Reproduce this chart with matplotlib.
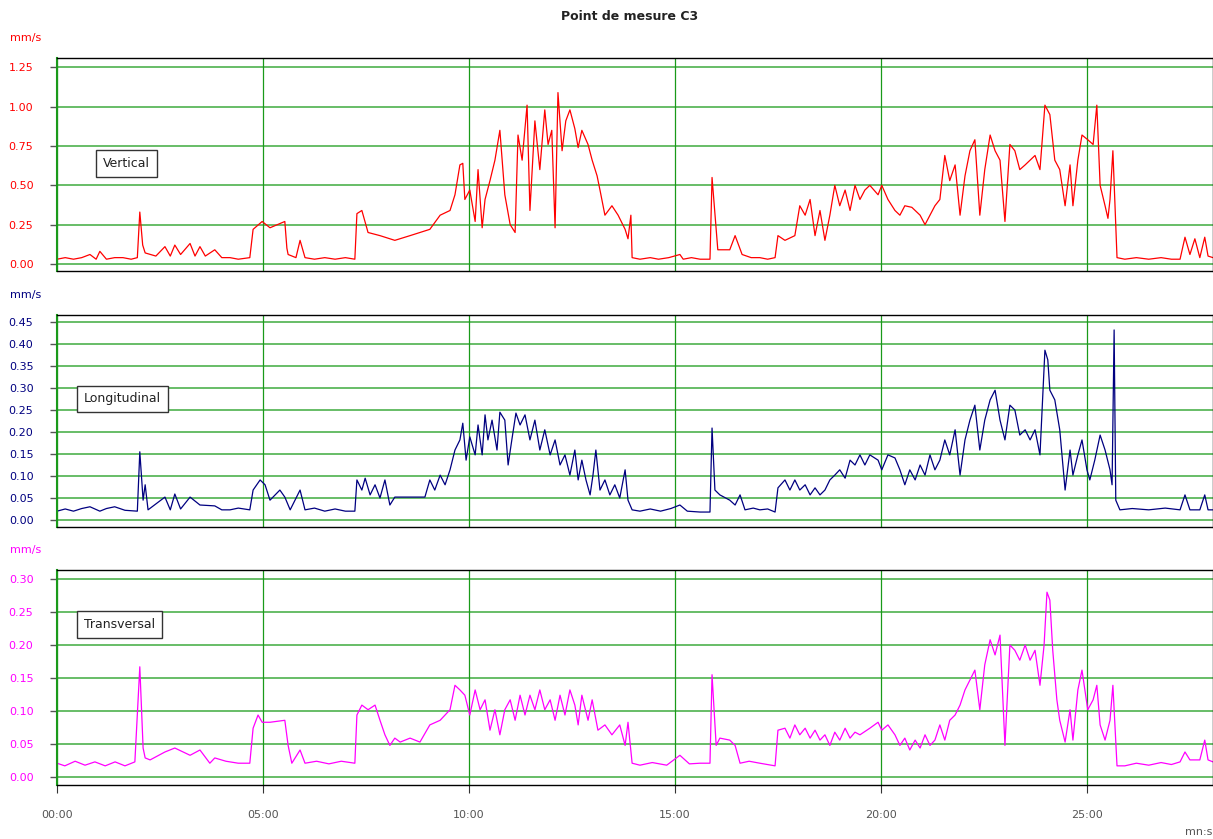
import numpy as np
import matplotlib
matplotlib.use("Agg")
import matplotlib.pyplot as plt
from matplotlib.ticker import FuncFormatter

# time in minutes, velocity in mm/s
t_vert = [0.00, 0.20, 0.40, 0.60, 0.80, 0.95, 1.04, 1.20, 1.40, 1.60, 1.80, 1.95, 2.01, 2.08, 2.14, 2.40, 2.62, 2.75, 2.86, 3.00,
          3.23, 3.35, 3.47, 3.60, 3.83, 4.00, 4.20, 4.40, 4.68, 4.76, 4.98, 5.17, 5.35, 5.53, 5.58, 5.61, 5.80, 5.90,
          6.02, 6.25, 6.50, 6.75, 7.00, 7.23, 7.28, 7.40, 7.55, 7.84, 8.20, 8.57, 9.05, 9.30, 9.54, 9.66, 9.78, 9.85, 9.90,
          10.02, 10.15, 10.22, 10.32, 10.39, 10.51, 10.63, 10.75, 10.87, 11.00, 11.12, 11.19, 11.29, 11.41,
          11.48, 11.60, 11.72, 11.84, 11.92, 12.01, 12.09, 12.16, 12.26, 12.35, 12.45, 12.57, 12.65, 12.74,
          12.89, 12.99, 13.11, 13.18, 13.30, 13.47, 13.62, 13.79, 13.86, 13.93, 13.96, 14.15, 14.40, 14.60, 14.85, 15.12,
          15.20, 15.40, 15.61, 15.85, 15.90, 16.04, 16.33, 16.46, 16.63, 16.85, 17.06, 17.25, 17.43, 17.50, 17.67, 17.91, 18.03,
          18.16, 18.28, 18.40, 18.52, 18.64, 18.76, 18.88, 19.00, 19.13, 19.25, 19.37, 19.49, 19.61, 19.73,
          19.93, 20.02, 20.17, 20.34, 20.46, 20.58, 20.75, 20.95, 21.07, 21.19, 21.31, 21.43, 21.55, 21.67,
          21.80, 21.92, 22.04, 22.16, 22.28, 22.40, 22.52, 22.65, 22.77, 22.89, 23.01, 23.13, 23.25, 23.37,
          23.50, 23.62, 23.74, 23.86, 23.98, 24.10, 24.22, 24.34, 24.47, 24.59, 24.66, 24.78, 24.88, 25.02,
          25.15, 25.24, 25.32, 25.44, 25.51, 25.56, 25.63, 25.73, 25.92, 26.20, 26.50, 26.80, 27.05, 27.26, 27.38, 27.50, 27.62,
          27.74, 27.86, 27.94, 28.06]
v_vert = [0.03, 0.04, 0.03, 0.04, 0.06, 0.03, 0.08, 0.03, 0.04, 0.04, 0.03, 0.04, 0.33, 0.12, 0.07, 0.05, 0.11, 0.05, 0.12, 0.06,
          0.13, 0.05, 0.11, 0.05, 0.09, 0.04, 0.04, 0.03, 0.04, 0.22, 0.27, 0.23, 0.25, 0.27, 0.10, 0.06, 0.04, 0.15,
          0.04, 0.03, 0.04, 0.03, 0.04, 0.03, 0.32, 0.34, 0.20, 0.18, 0.15, 0.18, 0.22, 0.31, 0.34, 0.44, 0.63, 0.64, 0.41,
          0.47, 0.27, 0.60, 0.23, 0.41, 0.53, 0.66, 0.85, 0.44, 0.25, 0.20, 0.82, 0.66, 1.01,
          0.34, 0.91, 0.60, 0.98, 0.76, 0.85, 0.23, 1.09, 0.72, 0.91, 0.98, 0.86, 0.74, 0.85,
          0.76, 0.66, 0.56, 0.47, 0.31, 0.37, 0.31, 0.22, 0.16, 0.31, 0.04, 0.03, 0.04, 0.03, 0.04, 0.06,
          0.03, 0.04, 0.03, 0.03, 0.55, 0.09, 0.09, 0.18, 0.06, 0.04, 0.04, 0.03, 0.04, 0.18, 0.15, 0.18, 0.37,
          0.31, 0.41, 0.18, 0.34, 0.15, 0.31, 0.50, 0.37, 0.47, 0.34, 0.50, 0.41, 0.47, 0.50,
          0.44, 0.50, 0.41, 0.34, 0.31, 0.37, 0.36, 0.31, 0.25, 0.31, 0.37, 0.41, 0.69, 0.53,
          0.63, 0.31, 0.56, 0.72, 0.79, 0.31, 0.60, 0.82, 0.72, 0.66, 0.27, 0.76, 0.72, 0.60,
          0.63, 0.66, 0.69, 0.60, 1.01, 0.95, 0.66, 0.60, 0.37, 0.63, 0.37, 0.66, 0.82, 0.79,
          0.76, 1.01, 0.50, 0.37, 0.29, 0.41, 0.72, 0.04, 0.03, 0.04, 0.03, 0.04, 0.03, 0.03, 0.17, 0.06, 0.16,
          0.04, 0.17, 0.05, 0.04]

t_long = [0.00, 0.20, 0.40, 0.60, 0.80, 1.04, 1.20, 1.40, 1.65, 1.95, 2.01, 2.09, 2.14, 2.21, 2.62, 2.75, 2.86, 3.00, 3.23, 3.47,
          3.83, 4.00, 4.20, 4.40, 4.68, 4.76, 4.93, 5.05, 5.17, 5.41, 5.53, 5.66, 5.90, 6.02, 6.25, 6.50, 6.75, 7.00, 7.23, 7.28, 7.40,
          7.48, 7.60, 7.72, 7.84, 7.96, 8.08, 8.20, 8.57, 8.93, 9.05, 9.17, 9.30, 9.42, 9.54, 9.66, 9.78,
          9.85, 9.93, 10.02, 10.15, 10.22, 10.32, 10.39, 10.46, 10.56, 10.68, 10.75, 10.87, 10.95, 11.04,
          11.14, 11.24, 11.36, 11.48, 11.60, 11.72, 11.84, 11.97, 12.09, 12.21, 12.33, 12.45, 12.57, 12.65,
          12.74, 12.84, 12.94, 13.01, 13.08, 13.18, 13.30, 13.42, 13.54, 13.66, 13.79, 13.86, 13.96, 14.15,
          14.40, 14.65, 14.90, 15.12, 15.30, 15.61, 15.85, 15.90, 15.97, 16.09, 16.33, 16.46, 16.58, 16.70, 16.90, 17.06, 17.25, 17.43, 17.50,
          17.67, 17.79, 17.91, 18.03, 18.16, 18.28, 18.40, 18.52, 18.64, 18.76, 18.88, 19.00, 19.13, 19.25,
          19.37, 19.49, 19.61, 19.73, 19.93, 20.02, 20.17, 20.34, 20.46, 20.58, 20.70, 20.83, 20.95, 21.07,
          21.19, 21.31, 21.43, 21.55, 21.67, 21.80, 21.92, 22.04, 22.16, 22.28, 22.40, 22.52, 22.65, 22.77,
          22.89, 23.01, 23.13, 23.25, 23.37, 23.50, 23.62, 23.74, 23.86, 23.98, 24.05, 24.10, 24.22, 24.34,
          24.47, 24.59, 24.66, 24.78, 24.88, 25.00, 25.07, 25.19, 25.32, 25.44, 25.56, 25.61, 25.66, 25.70,
          25.80, 26.10, 26.50, 26.90, 27.26, 27.38, 27.50, 27.74, 27.86, 27.94, 28.06]
v_long = [0.020, 0.025, 0.020, 0.026, 0.030, 0.020, 0.026, 0.030, 0.022, 0.020, 0.155, 0.045, 0.080, 0.023, 0.052, 0.023, 0.059, 0.025, 0.052, 0.034,
          0.032, 0.023, 0.023, 0.027, 0.023, 0.068, 0.091, 0.080, 0.045, 0.068, 0.052, 0.023, 0.068, 0.023, 0.027, 0.020, 0.025, 0.020, 0.020, 0.091, 0.068,
          0.095, 0.057, 0.080, 0.050, 0.091, 0.034, 0.052, 0.052, 0.052, 0.091, 0.068, 0.102, 0.080, 0.114, 0.159, 0.182,
          0.220, 0.136, 0.189, 0.148, 0.216, 0.148, 0.239, 0.182, 0.227, 0.159, 0.245, 0.227, 0.125, 0.182,
          0.243, 0.216, 0.239, 0.182, 0.227, 0.159, 0.205, 0.148, 0.182, 0.125, 0.148, 0.102, 0.159, 0.091,
          0.136, 0.091, 0.057, 0.102, 0.159, 0.068, 0.091, 0.057, 0.080, 0.050, 0.114, 0.045, 0.023, 0.020,
          0.025, 0.020, 0.026, 0.034, 0.020, 0.018, 0.018, 0.209, 0.068, 0.057, 0.045, 0.034, 0.057, 0.023, 0.027, 0.023, 0.025, 0.018, 0.073,
          0.091, 0.068, 0.091, 0.068, 0.080, 0.057, 0.073, 0.057, 0.068, 0.091, 0.102, 0.114, 0.095, 0.136,
          0.125, 0.148, 0.125, 0.148, 0.136, 0.114, 0.148, 0.141, 0.114, 0.080, 0.114, 0.091, 0.125, 0.102,
          0.148, 0.114, 0.136, 0.182, 0.148, 0.205, 0.102, 0.182, 0.227, 0.261, 0.159, 0.227, 0.273, 0.295,
          0.227, 0.182, 0.261, 0.250, 0.193, 0.205, 0.182, 0.205, 0.148, 0.386, 0.364, 0.295, 0.273, 0.205,
          0.068, 0.159, 0.102, 0.148, 0.182, 0.114, 0.091, 0.136, 0.193, 0.159, 0.114, 0.080, 0.432, 0.045,
          0.023, 0.026, 0.023, 0.027, 0.023, 0.057, 0.023, 0.023, 0.057, 0.023, 0.023]

t_trans = [0.00, 0.19, 0.44, 0.68, 0.92, 1.17, 1.41, 1.65, 1.89, 2.01, 2.09, 2.14, 2.26, 2.62, 2.86, 3.23,
           3.47, 3.71, 3.83, 4.10, 4.40, 4.68, 4.76, 4.88, 4.98, 5.17, 5.53, 5.61, 5.70, 5.90, 6.02, 6.30, 6.60, 6.90, 7.23, 7.28, 7.40,
           7.55, 7.72, 7.84, 7.96, 8.08, 8.20, 8.33, 8.57, 8.81, 9.05, 9.30, 9.54, 9.66, 9.78, 9.90, 10.02,
           10.15, 10.27, 10.39, 10.51, 10.63, 10.75, 10.87, 11.00, 11.12, 11.24, 11.36, 11.48, 11.60, 11.72,
           11.84, 11.97, 12.09, 12.21, 12.33, 12.45, 12.57, 12.65, 12.74, 12.89, 12.99, 13.13, 13.30, 13.47,
           13.66, 13.79, 13.86, 13.96, 14.15, 14.45, 14.80, 15.12, 15.35, 15.61, 15.85, 15.90, 16.00, 16.09, 16.33, 16.46, 16.58,
           16.80, 17.06, 17.43, 17.50, 17.67, 17.79, 17.91, 18.03, 18.16, 18.28, 18.40, 18.52, 18.64, 18.76, 18.88,
           19.00, 19.13, 19.25, 19.37, 19.49, 19.73, 19.93, 20.02, 20.17, 20.34, 20.46, 20.58, 20.70, 20.83,
           20.95, 21.07, 21.19, 21.31, 21.43, 21.55, 21.67, 21.80, 21.92, 22.04, 22.16, 22.28, 22.40, 22.52,
           22.65, 22.77, 22.89, 23.01, 23.13, 23.25, 23.37, 23.50, 23.62, 23.74, 23.86, 23.96, 24.03, 24.10,
           24.17, 24.27, 24.34, 24.47, 24.59, 24.66, 24.78, 24.88, 25.02, 25.15, 25.24, 25.32, 25.44, 25.56,
           25.63, 25.73, 25.92, 26.20, 26.50, 26.80, 27.05, 27.26, 27.38, 27.50, 27.74, 27.86, 27.94, 28.06]
v_trans = [0.021, 0.017, 0.024, 0.018, 0.023, 0.017, 0.023, 0.017, 0.023, 0.167, 0.044, 0.029, 0.026, 0.038, 0.044, 0.033,
           0.041, 0.021, 0.029, 0.024, 0.021, 0.021, 0.074, 0.094, 0.083, 0.083, 0.086, 0.048, 0.021, 0.041, 0.021, 0.024, 0.020, 0.024, 0.021, 0.094, 0.109,
           0.102, 0.109, 0.086, 0.064, 0.048, 0.059, 0.053, 0.059, 0.053, 0.079, 0.086, 0.102, 0.139, 0.132, 0.124, 0.094,
           0.132, 0.102, 0.117, 0.071, 0.102, 0.064, 0.102, 0.117, 0.086, 0.124, 0.094, 0.124, 0.102, 0.132,
           0.102, 0.117, 0.086, 0.124, 0.094, 0.132, 0.109, 0.079, 0.124, 0.086, 0.117, 0.071, 0.079, 0.064,
           0.079, 0.048, 0.083, 0.021, 0.018, 0.022, 0.018, 0.033, 0.020, 0.021, 0.021, 0.155, 0.048, 0.059, 0.056, 0.048, 0.021,
           0.024, 0.021, 0.017, 0.071, 0.074, 0.059, 0.079, 0.064, 0.074, 0.059, 0.071, 0.056, 0.064, 0.048, 0.068,
           0.056, 0.074, 0.059, 0.068, 0.064, 0.074, 0.083, 0.071, 0.079, 0.064, 0.048, 0.059, 0.041, 0.056,
           0.044, 0.064, 0.048, 0.056, 0.079, 0.056, 0.086, 0.094, 0.109, 0.132, 0.147, 0.162, 0.102, 0.170,
           0.208, 0.185, 0.215, 0.048, 0.200, 0.192, 0.177, 0.200, 0.177, 0.192, 0.139, 0.200, 0.280, 0.268,
           0.192, 0.117, 0.086, 0.053, 0.102, 0.056, 0.132, 0.162, 0.102, 0.117, 0.139, 0.079, 0.056, 0.086,
           0.139, 0.017, 0.017, 0.021, 0.018, 0.022, 0.019, 0.023, 0.038, 0.026, 0.026, 0.056, 0.026, 0.023]

series = [
    (t_vert, v_vert, "#ff0000", "Vertical", [0.0, 0.25, 0.5, 0.75, 1.0, 1.25], (-0.045, 1.31), (0.040, 0.505)),
    (t_long, v_long, "#000080", "Longitudinal", np.arange(0, 0.451, 0.05), (-0.016, 0.466), (0.023, 0.604)),
    (t_trans, v_trans, "#ff00ff", "Transversal", np.arange(0, 0.301, 0.05), (-0.012, 0.3136), (0.023, 0.747)),
]
time_ticks = [0, 5, 10, 15, 20, 25]

W, H = 1213, 839
fig = plt.figure(figsize=(W / 100, H / 100), dpi=100)
# (top, bottom) pixel rows of each panel
rows = [(58, 271), (315, 527), (570, 785)]

for i, ((t, v, col, name, yt, ylim, lpos), (top, bot)) in enumerate(zip(series, rows)):
    ax = fig.add_axes([57 / W, 1 - bot / H, 1 - 57 / W, (bot - top) / H])
    ax.plot(t, v, color=col, lw=0.9)
    ax.set_xlim(0, 28.06)
    ax.set_ylim(*ylim)
    ax.set_yticks(yt)
    ax.yaxis.set_major_formatter(FuncFormatter(lambda y, p: f"{y:.2f}"))
    for y in yt:
        ax.axhline(y, color="#5cb85c", lw=1.3, zorder=0)
    for x in time_ticks:
        ax.axvline(x, color="#1a9a1a", lw=0.9, zorder=0)
    ax.tick_params(axis="y", direction="out", length=5, width=1, color="#555555",
                   labelcolor=col, labelsize=8, pad=12)
    for side in ("top", "bottom", "right"):
        ax.spines[side].set_color("black")
        ax.spines[side].set_linewidth(1.0)
    ax.spines["left"].set_color("#1a9a1a")
    ax.spines["left"].set_linewidth(1.5)
    ax.set_xticks(time_ticks)
    if i < 2:
        ax.tick_params(axis="x", length=0, labelbottom=False)
    else:
        ax.set_xticklabels([f"{m:02d}:00" for m in time_ticks])
        ax.tick_params(axis="x", direction="out", length=6, color="#333333",
                       labelsize=8, labelcolor="#555555", pad=12)
    ax.text(lpos[0], lpos[1], name, transform=ax.transAxes, fontsize=9, color="#222222",
            ha="left", va="center",
            bbox=dict(boxstyle="square,pad=0.55", fc="white", ec="#333333", lw=1))
    fig.text(10 / W, 1 - (top - 20) / H, "mm/s", color=col, fontsize=8, ha="left", va="center")

fig.text(630 / W, 1 - 16 / H, "Point de mesure C3", fontsize=9, fontweight="bold",
         ha="center", va="center", color="#222222")
fig.text(1185 / W, 1 - 832 / H, "mn:s", fontsize=8, color="#555555", ha="left", va="center")

fig.savefig("out.png", dpi=100)
